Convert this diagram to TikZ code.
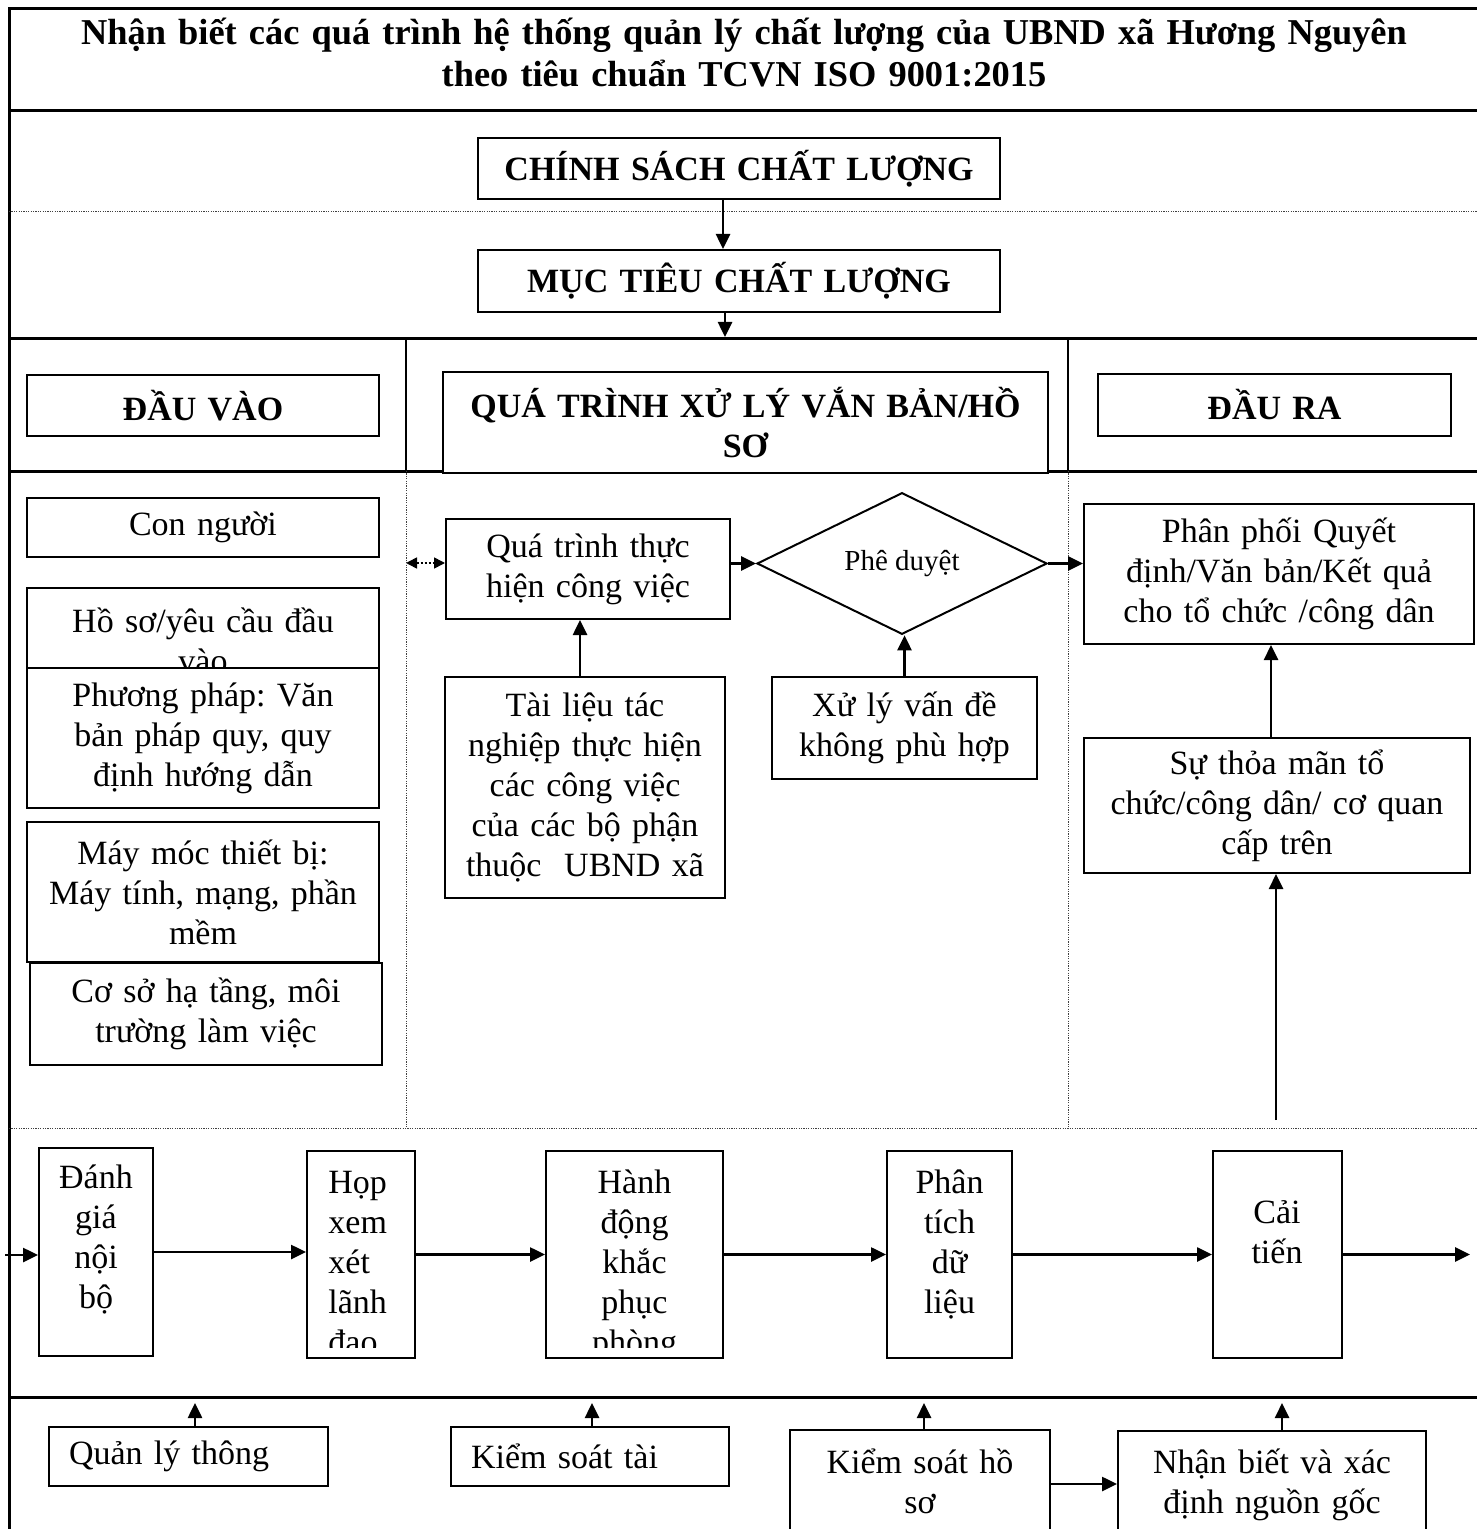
\documentclass[tikz,border=0pt]{standalone}
\usepackage{fontspec}
\setmainfont{Liberation Serif}
\usetikzlibrary{shapes.geometric,arrows.meta}
\frenchspacing

\newcommand\fsN{\fontsize{17}{20}\selectfont}
\newcommand\fsB{\fontsize{17}{20}\selectfont\bfseries}
\newcommand\fsT{\fontsize{18.2}{21}\selectfont\bfseries}
\newcommand\fsS{\fontsize{14.5}{16}\selectfont}

\tikzset{
  mainline/.style={line width=1.5pt},
  thinline/.style={line width=1pt},
  dotline/.style={line width=0.5pt, black!75, dash pattern=on 0.6pt off 0.6pt},
  boxst/.style={draw, line width=1pt, fill=white, inner sep=0pt, align=center, font=\fsN},
  hboxst/.style={boxst, font=\fsB},
  txtst/.style={inner sep=0pt, align=center, font=\fsN},
  arrst/.style={line width=1.3pt, -{Triangle[length=7.5pt,width=7pt]}},
  darrst/.style={line width=0.8pt, dash pattern=on 1pt off 1pt,
    {Triangle[length=5.5pt,width=5.5pt]}-{Triangle[length=5.5pt,width=5.5pt]}},
}

% \mkbox[options]{name}{x1}{y1}{x2}{y2}{text}   (pixel coordinates)
\newcommand\mkbox[7][]{%
  \pgfmathsetmacro\bxw{(#5-#3)*0.5}%
  \pgfmathsetmacro\bxh{(#6-#4)*0.5}%
  \node[boxst,minimum width=\bxw pt,minimum height=\bxh pt,text width=\bxw pt,#1]
    (#2) at ({(#3+#5)/2},{(#4+#6)/2}) {#7};}

\begin{document}
\begin{tikzpicture}[x=0.5pt,y=-0.5pt]
\clip (0,0) rectangle (1477,1529);
\fill[white] (0,0) rectangle (1477,1529);

% ---------- frame lines ----------
\draw[mainline] (9,1529) -- (9,9) -- (1477,9);
\draw[mainline] (9,111) -- (1477,111);
\draw[dotline] (9,212) -- (1477,212);
\draw[mainline] (9,339) -- (1477,339);
\draw[mainline] (9,471) -- (1477,471);
\draw[dotline] (9,1128) -- (1477,1128);
\draw[mainline] (9,1397) -- (1477,1397);
\draw[thinline] (406,339) -- (406,471);
\draw[thinline] (1068,339) -- (1068,471);
\draw[dotline] (406,471) -- (406,1128);
\draw[dotline] (1068,471) -- (1068,1128);

% ---------- title ----------
\node[txtst, font=\fsT, text width=720pt, anchor=base] (title) at (744,45)
  {Nhận biết các quá trình hệ thống quản lý chất lượng của UBND xã Hương Nguyên\\theo tiêu chuẩn TCVN ISO 9001:2015};

% ---------- headers ----------
\mkbox[hboxst]{chinhsach}{478}{138}{1000}{199}{CHÍNH SÁCH CHẤT LƯỢNG}
\mkbox[hboxst]{muctieu}{478}{250}{1000}{312}{MỤC TIÊU CHẤT LƯỢNG}
\mkbox[hboxst]{dauvao}{27}{375}{379}{436}{ĐẦU VÀO}
\mkbox[hboxst]{xulyvb}{443}{372}{1048}{473}{QUÁ TRÌNH XỬ LÝ VẮN BẢN/HỒ\\SƠ}
\mkbox[hboxst]{daura}{1098}{374}{1451}{436}{ĐẦU RA}

% ---------- inputs ----------
\mkbox{connguoi}{27}{498}{379}{557}{Con người}
\mkbox{hoso}{27}{588}{379}{668}{}
\node[txtst, text width=170pt, anchor=base] (hosotext) at (203,632) {Hồ sơ/yêu cầu đầu\\vào};
\mkbox{phuongphap}{27}{668}{379}{808}{Phương pháp: Văn\\bản pháp quy, quy\\định hướng dẫn}
\mkbox{maymoc}{27}{822}{379}{962}{Máy móc thiết bị:\\Máy tính, mạng, phần\\mềm}
\mkbox{coso}{30}{963}{382}{1065}{Cơ sở hạ tầng, môi\\trường làm việc}

% ---------- process ----------
\mkbox{quatrinh}{446}{519}{730}{619}{Quá trình thực\\hiện công việc}
\node[draw, diamond, line width=1pt, fill=white, minimum width=145pt, minimum height=48.5pt,
  inner sep=0pt, font=\fsS] (pheduyet) at (902,563.5) {Phê duyệt};
\mkbox{tailieu}{445}{677}{725}{898}{Tài liệu tác\\nghiệp thực hiện\\các công việc\\của các bộ phận\\thuộc\ \ UBND xã}
\mkbox{xulyvd}{772}{677}{1037}{779}{Xử lý vấn đề\\không phù hợp}

% ---------- outputs ----------
\mkbox{phanphoi}{1084}{504}{1474}{644}{Phân phối Quyết\\định/Văn bản/Kết quả\\cho tổ chức /công dân}
\mkbox{suthoa}{1084}{738}{1470}{873}{Sự thỏa mãn tổ\\chức/công dân/ cơ quan\\cấp trên}

% ---------- improvement row ----------
\mkbox{danhgia}{39}{1148}{153}{1356}{}
\node[txtst, text width=55pt, anchor=base] (danhgiatext) at (96,1188) {Đánh\\giá\\nội\\bộ};
\mkbox{hop}{307}{1151}{415}{1358}{}
\begin{scope}
  \clip (307,1151) rectangle (415,1347);
  \node[txtst, text width=40pt, align=left, anchor=base west] (hoptext) at (328,1193) {Họp\\xem\\xét\\lãnh\\đạo};
\end{scope}
\mkbox{hanhdong}{546}{1151}{723}{1358}{}
\begin{scope}
  \clip (546,1151) rectangle (723,1347);
  \node[txtst, text width=80pt, anchor=base] (hanhdongtext) at (634.5,1193) {Hành\\động\\khắc\\phục\\phòng};
\end{scope}
\mkbox{phantich}{887}{1151}{1012}{1358}{}
\node[txtst, text width=60pt, anchor=base] (phantichtext) at (949.5,1193) {Phân\\tích\\dữ\\liệu};
\mkbox{caitien}{1213}{1151}{1342}{1358}{}
\node[txtst, text width=60pt, anchor=base] (caitientext) at (1277,1223) {Cải\\tiến};

% ---------- support row ----------
\node[boxst, align=left, text width=119.5pt, inner xsep=10pt, minimum width=139.5pt,
  minimum height=29.5pt] (qly) at (188.5,1456.5) {Quản lý thông};
\node[boxst, align=left, text width=119pt, inner xsep=10pt, minimum width=139pt,
  minimum height=29.5pt] (kstl) at (590,1456.5) {Kiểm soát tài};
\mkbox{kshs}{790}{1430}{1050}{1570}{}
\node[txtst, text width=125pt, anchor=base] (kshstext) at (920,1473) {Kiểm soát hồ\\sơ};
\mkbox{nhanbiet}{1118}{1431}{1426}{1570}{}
\node[txtst, text width=150pt, anchor=base] (nhanbiettext) at (1272,1473) {Nhận biết và xác\\định nguồn gốc};

% ---------- connectors ----------
\draw[arrst] ([xshift=-8pt]chinhsach.south) -- ([xshift=-8pt]muctieu.north);
\coordinate (mt) at (725,337);
\draw[arrst] (muctieu.south -| mt) -- (mt);

\coordinate (dl) at (406,563);
\draw[darrst] (dl) -- (dl -| quatrinh.west);
\draw[arrst] (quatrinh.east |- pheduyet.west) -- (pheduyet.west);
\draw[arrst] (pheduyet.east) -- (pheduyet.east -| phanphoi.west);
\draw[arrst] ([xshift=-2.5pt]tailieu.north) -- ([xshift=-2.5pt]tailieu.north |- quatrinh.south);
\draw[arrst] (xulyvd.north) -- (xulyvd.north |- pheduyet.south);
\draw[arrst] ([xshift=-3pt]suthoa.north) -- ([xshift=-3pt]suthoa.north |- phanphoi.south);
\coordinate (sr) at (1276,1120);
\draw[arrst] (sr) -- (sr |- suthoa.south);

\coordinate (inL) at (5,1255);
\coordinate (outR) at (1470,1255);
\draw[arrst] (inL) -- (inL -| danhgia.west);
\draw[arrst] (danhgia.east) -- (danhgia.east -| hop.west);
\draw[arrst] (hop.east) -- (hop.east -| hanhdong.west);
\draw[arrst] (hanhdong.east) -- (hanhdong.east -| phantich.west);
\draw[arrst] (phantich.east) -- (phantich.east -| caitien.west);
\draw[arrst] (caitien.east) -- (caitien.east -| outR);

\coordinate (u1) at (195,1403);
\coordinate (u2) at (592,1403);
\coordinate (u3) at (924,1403);
\coordinate (u4) at (1282,1403);
\draw[arrst] (qly.north -| u1) -- (u1);
\draw[arrst] (kstl.north -| u2) -- (u2);
\draw[arrst] (kshs.north -| u3) -- (u3);
\draw[arrst] (nhanbiet.north -| u4) -- (u4);
\draw[arrst] ([yshift=8pt]kshs.east) -- ([yshift=8pt]kshs.east -| nhanbiet.west);
\end{tikzpicture}
\end{document}
